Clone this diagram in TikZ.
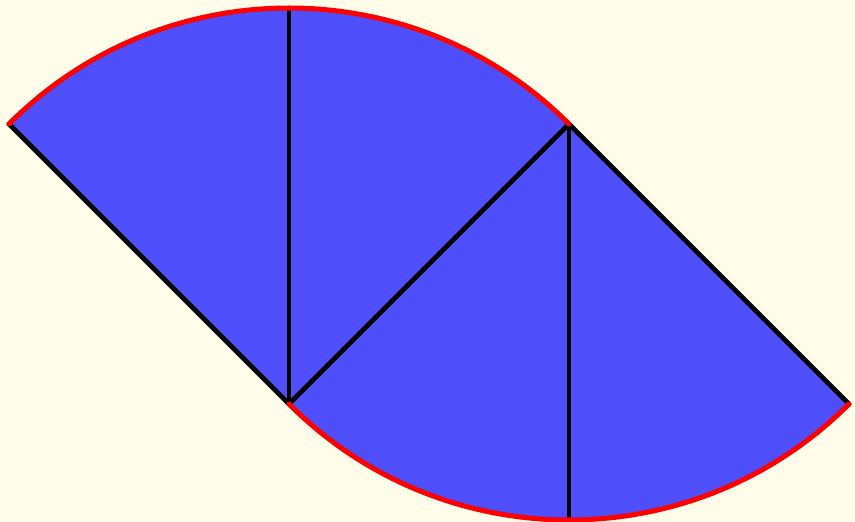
\documentclass[tikz,border=0pt]{standalone}
\usetikzlibrary{calc}
\definecolor{bg}{HTML}{FFFDE9}
\definecolor{fillblue}{HTML}{4E4EFB}
\begin{document}
\begin{tikzpicture}[x=1pt,y=-1pt,
  sector/.style={fill=fillblue,draw=none},
  edge/.style={draw=black,line width=4.8pt,line cap=round,line join=round},
  rim/.style={draw=red,line width=5pt,line cap=round}]
\fill[bg] (0,0) rectangle (855,522);
\useasboundingbox (0,0) rectangle (855,522);
\def\R{396}
\coordinate (A) at (289,404);
\coordinate (B) at ($(A)+(315:\R)$);
\coordinate (L) at ($(A)+(225:\R)$);
\coordinate (T) at ($(A)+(270:\R)$);
\coordinate (Bb) at ($(B)+(90:\R)$);
\coordinate (Rt) at ($(B)+(45:\R)$);
% sectors
\path[sector] (A) -- (L) arc[start angle=225,end angle=315,radius=\R] -- cycle;
\path[sector] (B) -- (A) arc[start angle=135,end angle=45,radius=\R] -- cycle;
% black edges
\draw[edge] (L) -- (A);
\draw[edge] (T) -- (A);
\draw[edge] (A) -- (B);
\draw[edge] (B) -- (Bb);
\draw[edge] (B) -- (Rt);
% red rims
\draw[rim] (L) arc[start angle=225,end angle=315,radius=\R];
\draw[rim] (A) arc[start angle=135,end angle=45,radius=\R];
\end{tikzpicture}
\end{document}
